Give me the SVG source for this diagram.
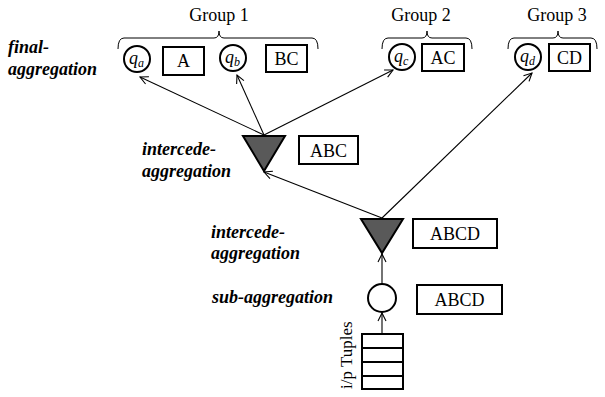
<svg xmlns="http://www.w3.org/2000/svg" width="605" height="397" viewBox="0 0 605 397">
  <style>
    .box { fill: #fff; stroke: #000; stroke-width: 2; }
    .node { fill: #fff; stroke: #000; stroke-width: 2; }
    .tri { fill: #595959; stroke: #000; stroke-width: 2; stroke-linejoin: miter; }
    .brace { fill: none; stroke: #000; stroke-width: 1; }
    .edge { fill: none; stroke: #000; stroke-width: 1.1; marker-end: url(#arrow); }
    .cell { stroke: #000; stroke-width: 2; }
  </style>
  <defs>
    <marker id="arrow" markerWidth="10" markerHeight="10" refX="9" refY="5" orient="auto" markerUnits="userSpaceOnUse">
      <path d="M1,1 L9,5 L1,9" fill="none" stroke="#000" stroke-width="1.1"/>
    </marker>
  </defs>

  <!-- level labels -->
  <g id="labels" font-family="Liberation Serif" font-weight="bold" font-style="italic" font-size="18" fill="#000">
    <text x="8" y="53">final-</text>
    <text x="8" y="75">aggregation</text>
    <text x="142" y="155">intercede-</text>
    <text x="142" y="177">aggregation</text>
    <text x="211" y="238">intercede-</text>
    <text x="211" y="259">aggregation</text>
    <text x="212" y="303">sub-aggregation</text>
  </g>

  <g font-family="Liberation Serif" fill="#000">
    <!-- group braces -->
    <g id="group1">
      <path class="brace" d="M118,49 Q118,38 124,38 L214,38 Q219,38 219,31 Q219,38 224,38 L312,38 Q318,38 318,49"/>
      <text x="219" y="21" font-size="18" text-anchor="middle">Group 1</text>
    </g>
    <g id="group2">
      <path class="brace" d="M382,49 Q382,38 388,38 L422,38 Q427,38 427,31 Q427,38 432,38 L466,38 Q472,38 472,49"/>
      <text x="421" y="21" font-size="18" text-anchor="middle">Group 2</text>
    </g>
    <g id="group3">
      <path class="brace" d="M508,49 Q508,38 514,38 L553,38 Q558,38 558,31 Q558,38 563,38 L591,38 Q597,38 597,49"/>
      <text x="557" y="21" font-size="18" text-anchor="middle">Group 3</text>
    </g>

    <!-- final aggregation nodes -->
    <g id="qa">
      <circle class="node" cx="137" cy="59" r="13"/>
      <text x="129" y="64" font-size="18" font-style="italic">q<tspan font-size="12" dy="3">a</tspan></text>
    </g>
    <g id="boxA">
      <rect class="box" x="163" y="47" width="41" height="28"/>
      <text x="183.5" y="67" font-size="18" text-anchor="middle">A</text>
    </g>
    <g id="qb">
      <circle class="node" cx="233" cy="58" r="13"/>
      <text x="225" y="63" font-size="18" font-style="italic">q<tspan font-size="12" dy="3">b</tspan></text>
    </g>
    <g id="boxBC">
      <rect class="box" x="266" y="45" width="41" height="27"/>
      <text x="286.5" y="65" font-size="18" text-anchor="middle">BC</text>
    </g>
    <g id="qc">
      <circle class="node" cx="402" cy="57" r="13"/>
      <text x="394" y="62" font-size="18" font-style="italic">q<tspan font-size="12" dy="3">c</tspan></text>
    </g>
    <g id="boxAC">
      <rect class="box" x="422" y="44" width="42" height="27"/>
      <text x="443" y="64" font-size="18" text-anchor="middle">AC</text>
    </g>
    <g id="qd">
      <circle class="node" cx="528" cy="57" r="13"/>
      <text x="520" y="62" font-size="18" font-style="italic">q<tspan font-size="12" dy="3">d</tspan></text>
    </g>
    <g id="boxCD">
      <rect class="box" x="549" y="44" width="41" height="27"/>
      <text x="569.5" y="64" font-size="18" text-anchor="middle">CD</text>
    </g>

    <!-- intercede aggregation (upper) -->
    <g id="tri1">
      <polygon class="tri" points="243,136 285,136 264,171"/>
    </g>
    <g id="boxABC">
      <rect class="box" x="299" y="136" width="59" height="28"/>
      <text x="328.5" y="157" font-size="18" text-anchor="middle">ABC</text>
    </g>

    <!-- intercede aggregation (lower) -->
    <g id="tri2">
      <polygon class="tri" points="361,219 403,219 382,253"/>
    </g>
    <g id="boxABCD1">
      <rect class="box" x="413" y="219" width="84" height="29"/>
      <text x="455" y="240" font-size="18" text-anchor="middle">ABCD</text>
    </g>

    <!-- sub aggregation -->
    <g id="sub">
      <circle class="node" cx="382" cy="298" r="14"/>
    </g>
    <g id="boxABCD2">
      <rect class="box" x="417" y="285" width="85" height="29"/>
      <text x="459.5" y="306" font-size="18" text-anchor="middle">ABCD</text>
    </g>

    <!-- input tuple queue -->
    <g id="queue">
      <rect class="box" x="362" y="334" width="41" height="55"/>
      <line class="cell" x1="362" y1="348" x2="403" y2="348"/>
      <line class="cell" x1="362" y1="362" x2="403" y2="362"/>
      <line class="cell" x1="362" y1="376" x2="403" y2="376"/>
      <text font-size="17" transform="translate(352,389) rotate(-90)">i/p Tuples</text>
    </g>
  </g>

  <!-- connectors -->
  <g id="connectors">
    <line class="edge" x1="382" y1="333" x2="382" y2="313"/>
    <line class="edge" x1="382" y1="284" x2="382" y2="254"/>
    <line class="edge" x1="382" y1="218" x2="264" y2="172"/>
    <line class="edge" x1="382" y1="218" x2="532" y2="73"/>
    <line class="edge" x1="264" y1="135" x2="140" y2="77"/>
    <line class="edge" x1="264" y1="135" x2="237" y2="75"/>
    <line class="edge" x1="264" y1="135" x2="393" y2="70"/>
  </g>
</svg>
